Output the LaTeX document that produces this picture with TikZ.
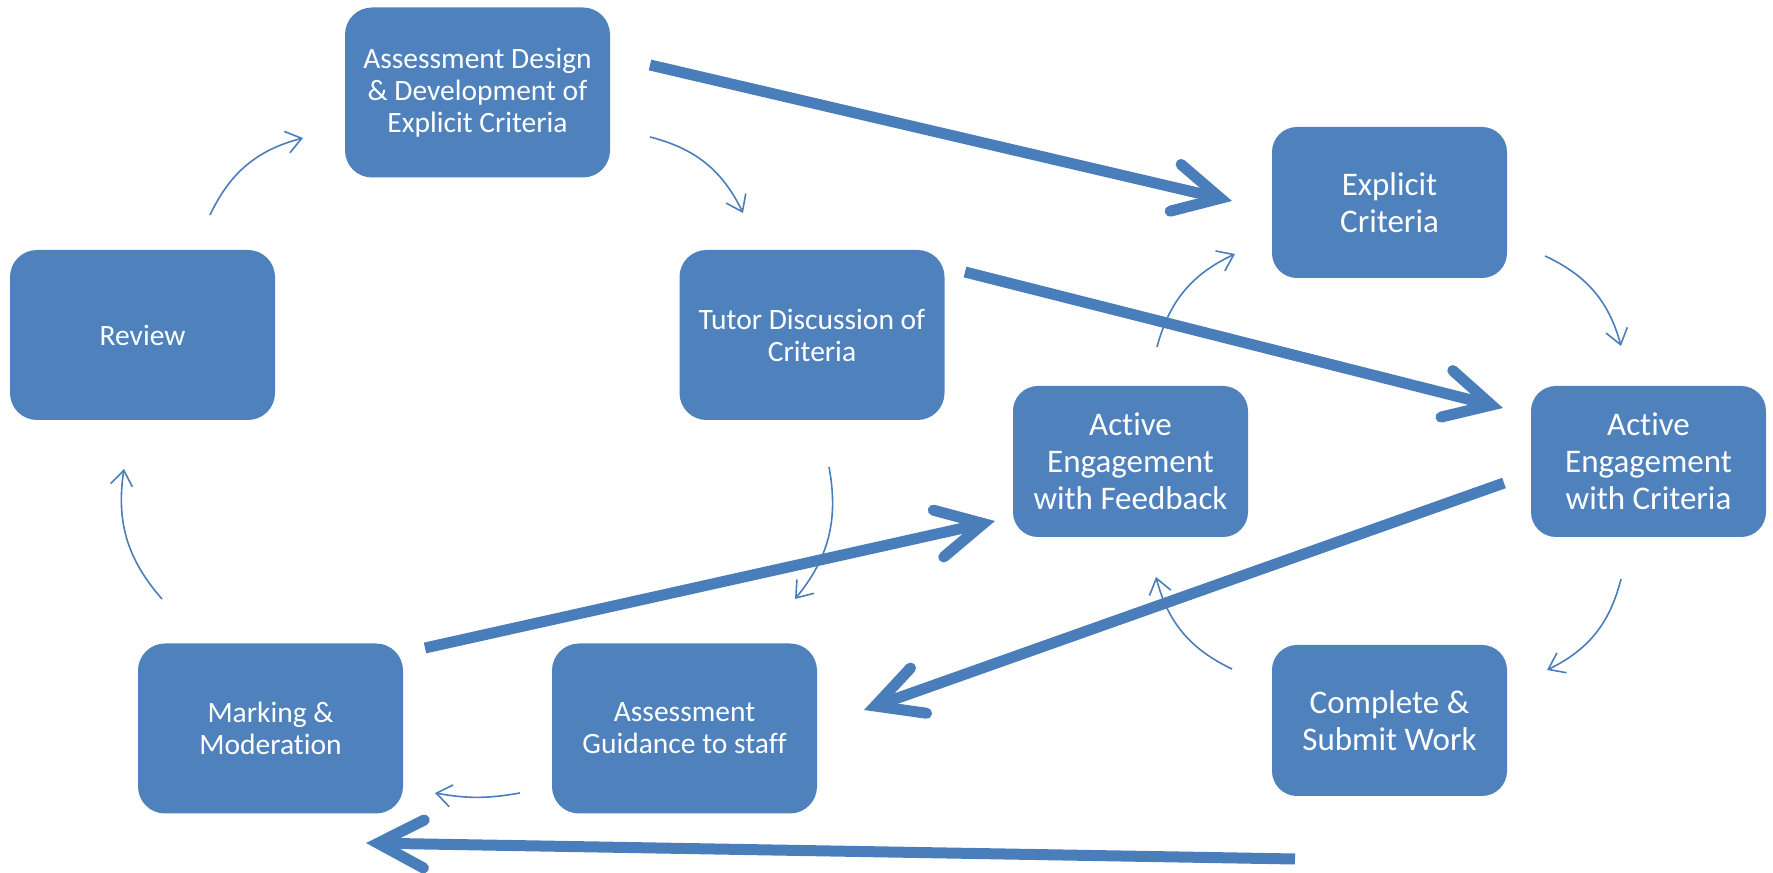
\documentclass[tikz,border=0pt]{standalone}
\usepackage{fontspec}
\setmainfont{Carlito}[Ligatures={NoCommon}]
\usetikzlibrary{arrows.meta,calc}
\definecolor{boxblue}{HTML}{4F81BD}
\definecolor{arrowblue}{HTML}{4A7EBB}
\begin{document}
\begin{tikzpicture}[x=1pt,y=1pt,
  boxbase/.style={rounded corners=27pt, fill=boxblue, text=white, align=center, inner sep=0pt},
  bigbox/.style={boxbase, minimum width=265pt, minimum height=170pt, font=\fontsize{29.5}{32}\selectfont},
  smallbox/.style={boxbase, rounded corners=25pt, minimum width=235pt, minimum height=151pt, font=\fontsize{33}{37}\selectfont},
  thinarrow/.style={draw=arrowblue, line width=1.6pt, -{Straight Barb[length=15pt,width=22pt]}},
  thickarrow/.style={draw=arrowblue, line width=11pt, -{Straight Barb[length=46pt,width=48pt,line cap=round,line join=miter]}}
]
\useasboundingbox (0,0) rectangle (1773,873);

\node[bigbox] (design) at (477.5,780.5) {Assessment Design\\ \& Development of\\ Explicit Criteria};
\node[bigbox] (review) at (142.5,538) {Review};
\node[bigbox] (tutor) at (812,538) {Tutor Discussion of\\ Criteria};
\node[smallbox] (explicit) at (1389.5,670.5) {Explicit\\ Criteria};
\node[smallbox] (aec) at (1648.5,411.5) {Active\\ Engagement\\ with Criteria};
\node[smallbox] (aef) at (1130.5,411.5) {Active\\ Engagement\\ with Feedback};
\node[bigbox] (marking) at (270.5,144.5) {Marking \&\\ Moderation};
\node[bigbox] (guidance) at (684.5,144.5) {Assessment\\ Guidance to staff};
\node[smallbox] (complete) at (1389.5,152.5) {Complete \&\\ Submit Work};

% thin cycle arrows
\draw[thinarrow] ($(review)+(67.5,120)$) to[bend left=25] ($(design)+(-174.5,-45.5)$);
\draw[thinarrow] ($(design)+(172.5,-44.5)$) to[bend left=25] ($(tutor)+(-69,122)$);
\draw[thinarrow] ($(tutor)+(17,-132)$) to[bend left=25] ($(guidance)+(110.5,129.5)$);
\draw[thinarrow] ($(guidance)+(-164.5,-64.5)$) to[bend left=10] ($(marking)+(164.5,-64.5)$);
\draw[thinarrow] ($(marking)+(-108.5,129.5)$) to[bend left=25] ($(review)+(-18.5,-134)$);
\draw[thinarrow] ($(explicit)+(155.5,-53.5)$) to[bend left=25] ($(aec)+(-27.5,115.5)$);
\draw[thinarrow] ($(aec)+(-27.5,-117.5)$) to[bend left=25] ($(complete)+(157.5,50.5)$);
\draw[thinarrow] ($(complete)+(-157.5,51.5)$) to[bend left=25] ($(aef)+(25.5,-115.5)$);
\draw[thinarrow] ($(aef)+(26.5,114.5)$) to[bend left=25] ($(explicit)+(-154.5,-51.5)$);

% thick arrows
\draw[thickarrow] ($(design)+(172.5,27.5)$) -- ($(explicit)+(-157.5,1.5)$);
\draw[thickarrow] ($(tutor)+(153,63)$) -- ($(aec)+(-145.5,53.5)$);
\draw[thickarrow] ($(marking)+(154.5,80.5)$) -- ($(aef)+(-135.5,-59.5)$);
\draw[thickarrow] ($(aec)+(-144.5,-21.5)$) -- ($(guidance)+(179.5,18.5)$);
\draw[thickarrow] ($(complete)+(-94.5,-138.5)$) -- ($(marking)+(95.5,-114.5)$);
\end{tikzpicture}
\end{document}
